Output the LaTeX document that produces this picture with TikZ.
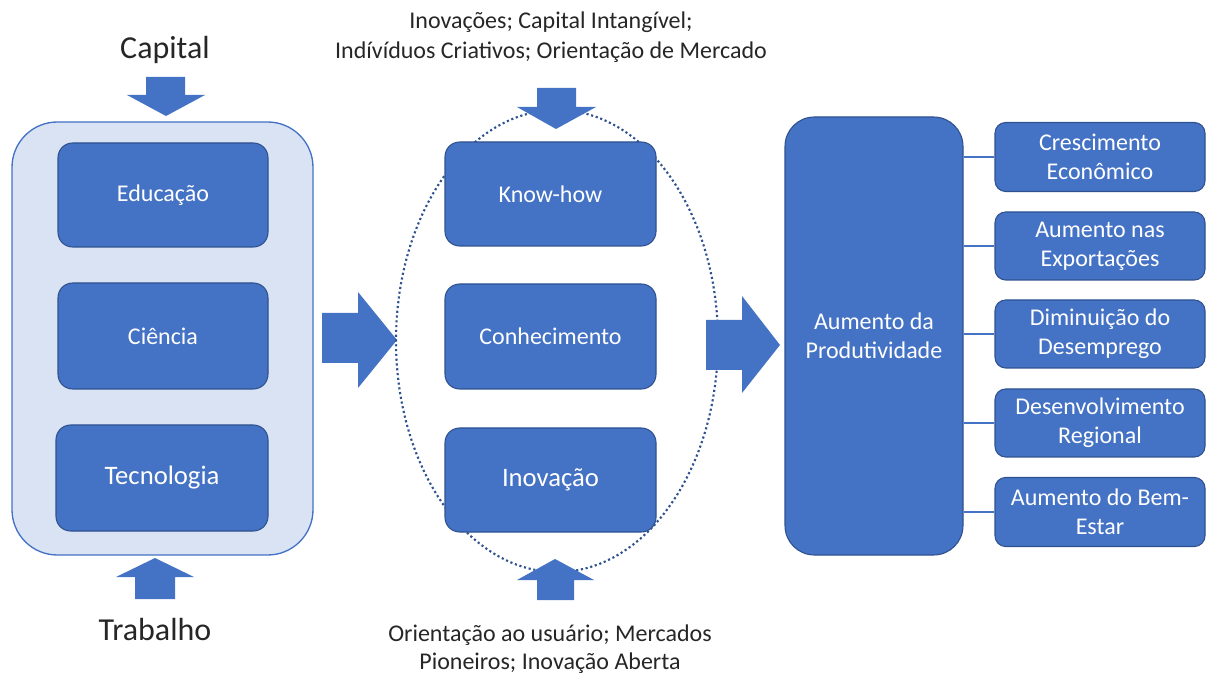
\documentclass[tikz,border=0pt]{standalone}
\usepackage{fontspec}
\setmainfont{Carlito}
\usetikzlibrary{shapes.geometric}
\definecolor{mblue}{HTML}{4472C4}
\definecolor{dblue}{HTML}{2F528F}
\definecolor{lblue}{HTML}{DAE3F3}
\definecolor{txt}{HTML}{262626}
\begin{document}
\begin{tikzpicture}[x=0.75pt,y=-0.75pt,
  bbox/.style 2 args={draw=dblue,line width=0.8pt,fill=mblue,rounded corners=11pt,
     minimum width=#1*0.75pt,minimum height=#2*0.75pt,text=white,align=center,
     font=\fontsize{18}{21.75}\selectfont,inner sep=0pt},
  blockarrow/.style={fill=mblue,draw=none},
  link/.style={draw=mblue,line width=0.9pt},
  lbl/.style={text=txt,align=center,inner sep=0pt}]
\useasboundingbox (0,0) rectangle (1207,673);
% left container
\node[draw=mblue,line width=1pt,fill=lblue,rounded corners=34pt,minimum width=301*0.75pt,minimum height=433*0.75pt,inner sep=0pt] (left) at (162.5,338.5) {};
\node[bbox={210}{104}] (edu) at (163,195) {Educação};
\node[bbox={210}{106}] (cie) at (163,336) {Ciência};
\node[bbox={212}{106}] (tec) at (162,478) {\fontsize{20}{24}\selectfont Tecnologia};
\node[lbl,font=\fontsize{24}{28}\selectfont] (cap) at (165,50) {Capital};
\node[lbl,font=\fontsize{24}{28}\selectfont] (trab) at (155,630) {Trabalho};
% capital arrow (down)
\path[blockarrow] (146,77) -- (185,77) -- (185,95) -- (205,95) -- (166,116) -- (127,95) -- (146,95) -- cycle;
% trabalho arrow (up)
\path[blockarrow] (135,599) -- (175,599) -- (175,577) -- (194,577) -- (155,558) -- (116,577) -- (135,577) -- cycle;
% arrow 1 right
\path[blockarrow] (322,313) -- (358,313) -- (358,292) -- (397,340) -- (358,388) -- (358,363) -- (322,363) -- cycle;
% middle ellipse
\node[draw=dblue,dotted,line width=1.6pt,ellipse,minimum width=322*0.75pt,minimum height=462*0.75pt,inner sep=0pt] (ell) at (557,341) {};
\node[bbox={211}{104}] (kh) at (550.5,194) {Know-how};
\node[bbox={211}{105}] (con) at (550.5,336.5) {Conhecimento};
\node[bbox={211}{104}] (inov) at (550.5,480) {\fontsize{20}{24}\selectfont Inovação};
\node[lbl,font=\fontsize{18}{22.5}\selectfont] (topt) at (551,37) {Inovações; Capital Intangível;\\Indívíduos Criativos; Orientação de Mercado};
\node[lbl,font=\fontsize{18}{21}\selectfont] (bott) at (550,649) {Orientação ao usuário; Mercados\\Pioneiros; Inovação Aberta};
% top arrow (down)
\path[blockarrow] (537,88) -- (576,88) -- (576,107) -- (596,107) -- (556,129) -- (517,107) -- (537,107) -- cycle;
% bottom arrow (up)
\path[blockarrow] (537,600) -- (574,600) -- (574,580) -- (594,580) -- (555,559) -- (517,580) -- (537,580) -- cycle;
% arrow 2 right
\path[blockarrow] (706,320) -- (742,320) -- (742,296) -- (780,345) -- (742,393) -- (742,370) -- (706,370) -- cycle;
% productivity
\node[bbox={178}{438},rounded corners=22pt] (prod) at (874,336) {Aumento da\\Produtividade};
% outcomes
\node[bbox={210}{69},rounded corners=8pt] (o1) at (1100,157) {Crescimento\\Econômico};
\node[bbox={210}{68},rounded corners=8pt] (o2) at (1100,246) {Aumento nas\\Exportações};
\node[bbox={210}{68},rounded corners=8pt] (o3) at (1100,334) {Diminuição do\\Desemprego};
\node[bbox={210}{68},rounded corners=8pt] (o4) at (1100,423) {Desenvolvimento\\Regional};
\node[bbox={210}{69},rounded corners=8pt] (o5) at (1100,512) {Aumento do Bem-\\Estar};
\foreach \o in {o1,o2,o3,o4,o5}
  \draw[link] (prod.east |- \o.west) -- (\o.west);
\end{tikzpicture}
\end{document}
